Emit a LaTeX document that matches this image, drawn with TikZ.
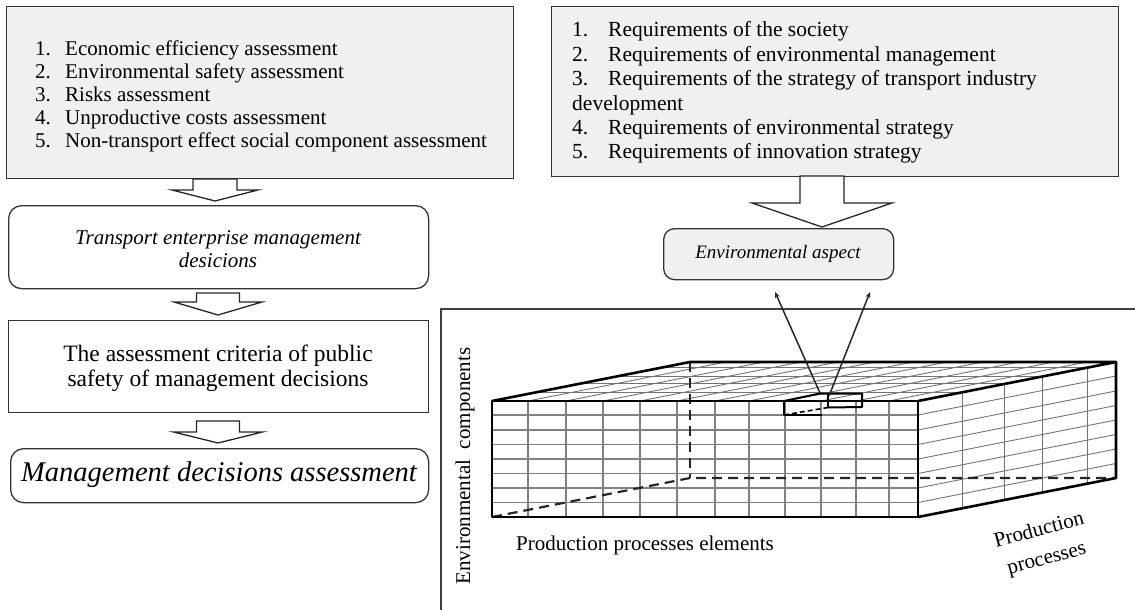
\documentclass[tikz,border=0pt]{standalone}
\usepackage{fontspec}
\setmainfont{Liberation Serif}
\usetikzlibrary{arrows.meta}
\newcommand\blockdown[6]{% cx, ytop, ymid, ytip, stemhalf, headhalf
  \draw[arrowline] (#1-#5,#2)--(#1-#5,#3)--(#1-#6,#3)--(#1,#4)--(#1+#6,#3)--(#1+#5,#3)--(#1+#5,#2)--cycle;}
\begin{document}
\begin{tikzpicture}[x=1pt,y=-1pt,
  boxline/.style={draw=black!80,line width=1.3pt,inner sep=0pt,anchor=north west},
  grayfill/.style={fill=black!6},
  arrowline/.style={draw=black!85,line width=1.3pt,fill=white},
  gridline/.style={draw=black!50,line width=1.6pt},
  thingrid/.style={draw=black!55,line width=0.9pt},
  edge/.style={draw=black,line width=2.6pt,line join=round},
  hidden/.style={draw=black!85,line width=2.2pt,dash pattern=on 10pt off 6pt},
  thinarrow/.style={draw=black!85,line width=1.5pt,-{Stealth[length=6pt,width=5pt]}},
  txt/.style={inner sep=0pt}]
\useasboundingbox (0,0) rectangle (1135,610);

% ---- left column ----
\node[boxline,grayfill,minimum width=507pt,minimum height=172pt] (crit) at (6,6) {};
\node[txt,anchor=base west] (critlist) at (35,56) {\fontsize{21}{23}\selectfont
  \begin{tabular}[t]{@{}p{30pt}@{}l@{}}
  1. & Economic efficiency assessment\\
  2. & Environmental safety assessment\\
  3. & Risks assessment\\
  4. & Unproductive costs assessment\\
  5. & Non-transport effect social component assessment
  \end{tabular}};

\blockdown{215}{179}{190}{201}{22}{43}

\node[boxline,rounded corners=13pt,minimum width=420pt,minimum height=83pt] (tem) at (8,205) {};
\node[txt,align=center,font=\fontsize{21}{23}\selectfont\itshape] (temtext) at (218,249)
  {Transport enterprise management\\desicions};

\blockdown{218}{293}{302}{315}{21.5}{44}

\node[boxline,minimum width=420pt,minimum height=92pt] (crt) at (8,320) {};
\node[txt,align=center,font=\fontsize{23.5}{25}\selectfont] (crttext) at (218,368)
  {The assessment criteria of public\\safety of management decisions};

\blockdown{218}{421}{432}{443}{21.5}{44.5}

\node[boxline,rounded corners=13pt,minimum width=418pt,minimum height=54pt] (mda) at (10,448) {};
\node[txt,font=\fontsize{28.5}{30}\selectfont\itshape] (mdatext) at (219,475)
  {Management decisions assessment};

% ---- right column ----
\node[boxline,grayfill,minimum width=567pt,minimum height=170pt] (req) at (551,6) {};
\node[txt,anchor=base west] (reqlist) at (572,37) {\fontsize{21.5}{24.4}\selectfont
  \begin{tabular}[t]{@{}p{36pt}@{}l@{}}
  1. & Requirements of the society\\
  2. & Requirements of environmental management\\
  3. & Requirements of the strategy of transport industry\\
  \multicolumn{2}{@{}l@{}}{development}\\
  4. & Requirements of environmental strategy\\
  5. & Requirements of innovation strategy
  \end{tabular}};

\blockdown{822}{176}{203}{227}{22}{70}

\node[boxline,grayfill,rounded corners=11pt,minimum width=230pt,minimum height=51pt] (env) at (663,228) {};
\node[txt,font=\fontsize{19}{22}\selectfont\itshape] (envtext) at (778,254) {Environmental aspect};

% ---- frame ----
\draw[draw=black!75,line width=1.3pt] (441,610)--(441,309)--(1135,309);

% ---- cube grids ----
% front face
\foreach \x in {528,566,603,640,677,715,749,785,821,856,889}
  \draw[gridline] (\x,401)--(\x,517);
\foreach \y in {415,430,444.5,459,473.5,488,502.5}
  \draw[gridline] (492,\y)--(918,\y);
% top face
\foreach \x in {528,566,603,640,677,715,749,785,821,856,889}
  \draw[thingrid] (\x,401)--++(198,-39);
\foreach \f in {0.222,0.439,0.626,0.854}
  \draw[thingrid] (492+198*\f,401-39*\f)--(918+198*\f,401-39*\f);
% right face
\foreach \f in {0.222,0.439,0.626,0.854}
  \draw[thingrid] (918+198*\f,401-39*\f)--(918+198*\f,517-39*\f);
\foreach \y in {415,430,444.5,459,473.5,488,502.5}
  \draw[thingrid] (918,\y)--++(198,-39);

% hidden edges
\draw[hidden] (492,517)--(690,478)--(1116,478);
\draw[hidden] (690,362)--(690,478);

% visible edges
\draw[edge] (492,401) rectangle (918,517);
\draw[edge] (492,401)--(690,362)--(1116,362)--(918,401);
\draw[edge] (1116,362)--(1116,478)--(918,517);

% highlighted cell
\draw[draw=black,line width=2pt,line join=round] (784,401)--(784,415)--(822,415);
\draw[draw=black,line width=2pt,line join=round] (784,401)--(820,393.5)--(862,393.5)--(862,407)--(828,407.5);
\draw[draw=black,line width=2pt] (828,393.5)--(828,407.5);
\draw[draw=black,line width=1.6pt,dash pattern=on 5pt off 3pt] (784,415)--(828,407.5);

% arrows to environmental aspect
\coordinate (cellL) at (820,393);
\coordinate (cellR) at (829,396);
\coordinate (tipL) at (775,292);
\coordinate (tipR) at (870,292);
\draw[thinarrow] (cellL)--(tipL);
\draw[thinarrow] (cellR)--(tipR);

% ---- labels ----
\node[txt,rotate=90,font=\fontsize{21}{23}\selectfont] (envcomp) at (465,466) {Environmental\ \ components};
\node[txt,font=\fontsize{21}{23}\selectfont] (ppe) at (645,545) {Production processes elements};
\node[txt,rotate=15,align=center,font=\fontsize{21}{29}\selectfont] (pp) at (1043,545) {Production\\processes};
\end{tikzpicture}
\end{document}
